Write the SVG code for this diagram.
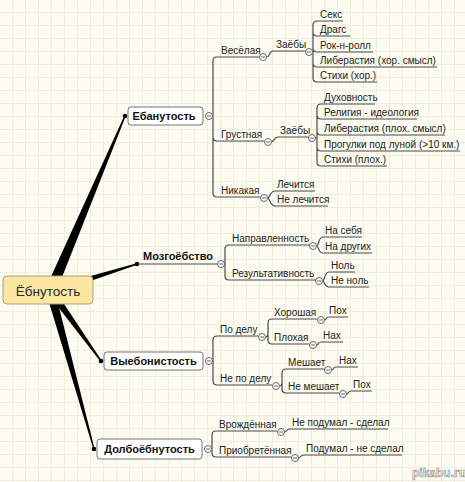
<svg xmlns="http://www.w3.org/2000/svg" width="465" height="482" viewBox="0 0 465 482">
<defs>
<pattern id="grid" width="13" height="13" patternUnits="userSpaceOnUse">
<path d="M12.5 0 V12.5 H0" fill="none" stroke="#efeedb" stroke-width="1"/>
</pattern>
<style>
.t{font-family:"Liberation Sans",Arial,sans-serif;font-size:10px;fill:#222}
.b{font-family:"Liberation Sans",Arial,sans-serif;font-size:11px;font-weight:bold;fill:#111}
.r{font-family:"Liberation Sans",Arial,sans-serif;font-size:13.5px;fill:#2a2a2a}
.ln{fill:none;stroke:#4a4a4a;stroke-width:1.2}
.box{fill:#fff;stroke:#777;stroke-width:1}
.c{fill:#fff;stroke:#555;stroke-width:0.9}
.m{stroke:#555;stroke-width:0.9}
.thick{fill:#000}
</style>
</defs>
<rect width="465" height="482" fill="#fcfcf2"/>
<rect width="465" height="482" fill="url(#grid)"/>

<g id="connectors">
<polygon class="thick" points="56.06,292.16 125.69,116.29 124.31,115.71 45.94,287.84"/>
<polygon class="thick" points="61.04,291.34 137.21,264.67 136.79,263.33 58.96,284.66"/>
<polygon class="thick" points="53.26,287.68 101.61,360.56 100.39,361.44 46.74,292.32"/>
<polygon class="thick" points="54.33,288.79 94.58,448.84 93.42,449.16 45.67,291.21"/>
<circle cx="125" cy="116" r="2.3" fill="#000"/>
<circle cx="137" cy="264" r="2.3" fill="#000"/>
<circle cx="101" cy="361" r="2.3" fill="#000"/>
<circle cx="94" cy="449" r="2.3" fill="#000"/>

<path class="ln" d="M212.5 116 H213 M259 57 H217 Q213 57 213 61 V193 Q213 197 217 197 H260 M213 137 Q213 141 217 141 H264"/>
<path class="ln" d="M266.5 57 C270 57 269 51 273 51 H305"/>
<path class="ln" d="M312.5 52 H313 M343 21 H317 Q313 21 313 25 V78 Q313 82 317 82 H377 M313 32 Q313 36 317 36 H350 M313 48 Q313 52 317 52 H373 M313 63 Q313 67 317 67 H437"/>
<path class="ln" d="M271.5 142 C274 142 274 137 278 137 H308"/>
<path class="ln" d="M315.5 138 H317 M375 104 H321 Q317 104 317 108 V162 Q317 166 321 166 H387 M317 115 Q317 119 321 119 H417 M317 131 Q317 135 321 135 H445 M317 147 Q317 151 321 151 H460"/>
<path class="ln" d="M267.5 198 C270 198 270 191 275 191 H315 M267.5 198 C270 198 270 206 275 206 H328"/>

<path class="ln" d="M137 264 H217.5 M224.5 264 H225 M310 245 H229 Q225 245 225 249 V276 Q225 280 229 280 H316"/>
<path class="ln" d="M316.5 246 C319 246 318 237 323 237 H362 M316.5 246 C319 246 318 253 323 253 H372"/>
<path class="ln" d="M322.5 281 C325 281 324 272 329 272 H355 M322.5 281 C325 281 324 287 329 287 H369"/>

<path class="ln" d="M212.5 361 H213 M258 336 H217 Q213 336 213 340 V381 Q213 385 217 385 H272"/>
<path class="ln" d="M265.5 337 Q268 337 268 333 V323 Q268 319 272 319 H317 M268 333 V340 Q268 344 272 344 H309"/>
<path class="ln" d="M324.5 320 C326.5 320 326 317 329 317 H348 M316.5 345 C318.5 345 318 342 321 342 H343"/>
<path class="ln" d="M279.5 386 Q282 386 282 382 V373 Q282 369 286 369 H325 M282 382 V389 Q282 393 286 393 H339"/>
<path class="ln" d="M331.5 370 C333.5 370 333 367 336 367 H358 M346.5 394 C348.5 394 348 391 351 391 H372"/>

<path class="ln" d="M211.5 449 H212 M277 431 H216 Q212 431 212 435 V453 Q212 457 216 457 H291"/>
<path class="ln" d="M284.5 432 C287 432 286 429 290 429 H388 M298.5 458 C301 458 300 455 304 455 H402"/>
</g>

<g id="root">
<rect x="3" y="276" width="90" height="28" rx="4" fill="#fbe7a1" stroke="#a89f7c" stroke-width="1"/>
<text class="r" x="48" y="295.5" text-anchor="middle">Ёбнутость</text>
</g>

<g id="n-ebanutost">
<rect class="box" x="128" y="107" width="75" height="18" rx="3"/>
<text class="b" x="164" y="120" text-anchor="middle">Ебанутость</text>
<circle class="c" cx="209" cy="116" r="3.5"/><path class="m" d="M207 116 H211"/>
</g>
<g id="n-veselaya"><text class="t" x="221" y="54">Весёлая</text><circle class="c" cx="263" cy="57" r="3.5"/><path class="m" d="M261 57 H265"/></g>
<g id="n-zaeby1"><text class="t" x="276" y="48">Заёбы</text><circle class="c" cx="309" cy="52" r="3.5"/><path class="m" d="M307 52 H311"/></g>
<g id="n-seks"><text class="t" x="320" y="18">Секс</text></g>
<g id="n-drags"><text class="t" x="320" y="33">Драгс</text></g>
<g id="n-rok"><text class="t" x="320" y="49">Рок-н-ролл</text></g>
<g id="n-liber1"><text class="t" x="320" y="64">Либерастия (хор. смысл)</text></g>
<g id="n-stihi1"><text class="t" x="320" y="79">Стихи (хор.)</text></g>
<g id="n-grustnaya"><text class="t" x="221" y="138">Грустная</text><circle class="c" cx="268" cy="142" r="3.5"/><path class="m" d="M266 142 H270"/></g>
<g id="n-zaeby2"><text class="t" x="280" y="134">Заёбы</text><circle class="c" cx="312" cy="138" r="3.5"/><path class="m" d="M310 138 H314"/></g>
<g id="n-duh"><text class="t" x="324" y="101">Духовность</text></g>
<g id="n-relig"><text class="t" x="324" y="116">Религия - идеология</text></g>
<g id="n-liber2"><text class="t" x="324" y="132">Либерастия (плох. смысл)</text></g>
<g id="n-progulki"><text class="t" x="324" y="148">Прогулки под луной (&gt;10 км.)</text></g>
<g id="n-stihi2"><text class="t" x="324" y="163">Стихи (плох.)</text></g>
<g id="n-nikakaya"><text class="t" x="221" y="194">Никакая</text><circle class="c" cx="264" cy="198" r="3.5"/><path class="m" d="M262 198 H266"/></g>
<g id="n-lechitsya"><text class="t" x="277" y="188">Лечится</text></g>
<g id="n-nelechitsya"><text class="t" x="277" y="203">Не лечится</text></g>

<g id="n-mozg">
<text class="b" x="143" y="260">Мозгоёбство</text>
<circle class="c" cx="221" cy="264" r="3.5"/><path class="m" d="M219 264 H223"/>
</g>
<g id="n-napr"><text class="t" x="232" y="242">Направленность</text><circle class="c" cx="313" cy="246" r="3.5"/><path class="m" d="M311 246 H315"/></g>
<g id="n-rez"><text class="t" x="232" y="277">Результативность</text><circle class="c" cx="319" cy="281" r="3.5"/><path class="m" d="M317 281 H321"/></g>
<g id="n-nasebya"><text class="t" x="325" y="234">На себя</text></g>
<g id="n-nadrugih"><text class="t" x="325" y="250">На других</text></g>
<g id="n-nol"><text class="t" x="331" y="269">Ноль</text></g>
<g id="n-nenol"><text class="t" x="331" y="284">Не ноль</text></g>

<g id="n-vyebon">
<rect class="box" x="104" y="352" width="99" height="18" rx="3"/>
<text class="b" x="153.5" y="365" text-anchor="middle">Выебонистость</text>
<circle class="c" cx="209" cy="361" r="3.5"/><path class="m" d="M207 361 H211"/>
</g>
<g id="n-podelu"><text class="t" x="220" y="333">По делу</text><circle class="c" cx="262" cy="337" r="3.5"/><path class="m" d="M260 337 H264"/></g>
<g id="n-nepodelu"><text class="t" x="220" y="382">Не по делу</text><circle class="c" cx="276" cy="386" r="3.5"/><path class="m" d="M274 386 H278"/></g>
<g id="n-horosh"><text class="t" x="274" y="316">Хорошая</text><circle class="c" cx="321" cy="320" r="3.5"/><path class="m" d="M319 320 H323"/></g>
<g id="n-ploh"><text class="t" x="274" y="341">Плохая</text><circle class="c" cx="313" cy="345" r="3.5"/><path class="m" d="M311 345 H315"/></g>
<g id="n-poh1"><text class="t" x="329" y="314">Пох</text></g>
<g id="n-nah1"><text class="t" x="323" y="339">Нах</text></g>
<g id="n-meshaet"><text class="t" x="288" y="366">Мешает</text><circle class="c" cx="328" cy="370" r="3.5"/><path class="m" d="M326 370 H330"/></g>
<g id="n-nemeshaet"><text class="t" x="288" y="390">Не мешает</text><circle class="c" cx="343" cy="394" r="3.5"/><path class="m" d="M341 394 H345"/></g>
<g id="n-nah2"><text class="t" x="339" y="364">Нах</text></g>
<g id="n-poh2"><text class="t" x="353" y="388">Пох</text></g>

<g id="n-dolbo">
<rect class="box" x="97" y="439" width="105" height="20" rx="3"/>
<text class="b" x="149.5" y="453" text-anchor="middle">Долбоёбнутость</text>
<circle class="c" cx="208" cy="449" r="3.5"/><path class="m" d="M206 449 H210"/>
</g>
<g id="n-vrozh"><text class="t" x="219" y="428">Врождённая</text><circle class="c" cx="281" cy="432" r="3.5"/><path class="m" d="M279 432 H283"/></g>
<g id="n-priobr"><text class="t" x="219" y="454">Приобретённая</text><circle class="c" cx="295" cy="458" r="3.5"/><path class="m" d="M293 458 H297"/></g>
<g id="n-nepodumal"><text class="t" x="292" y="426">Не подумал - сделал</text></g>
<g id="n-podumal"><text class="t" x="306" y="452">Подумал - не сделал</text></g>

<text x="439" y="477" text-anchor="middle" font-family="Liberation Sans, Arial, sans-serif" font-size="12" font-weight="bold" fill="#f6f6f6" stroke="#9a9a9a" stroke-width="0.7">pikabu.ru</text>
</svg>
